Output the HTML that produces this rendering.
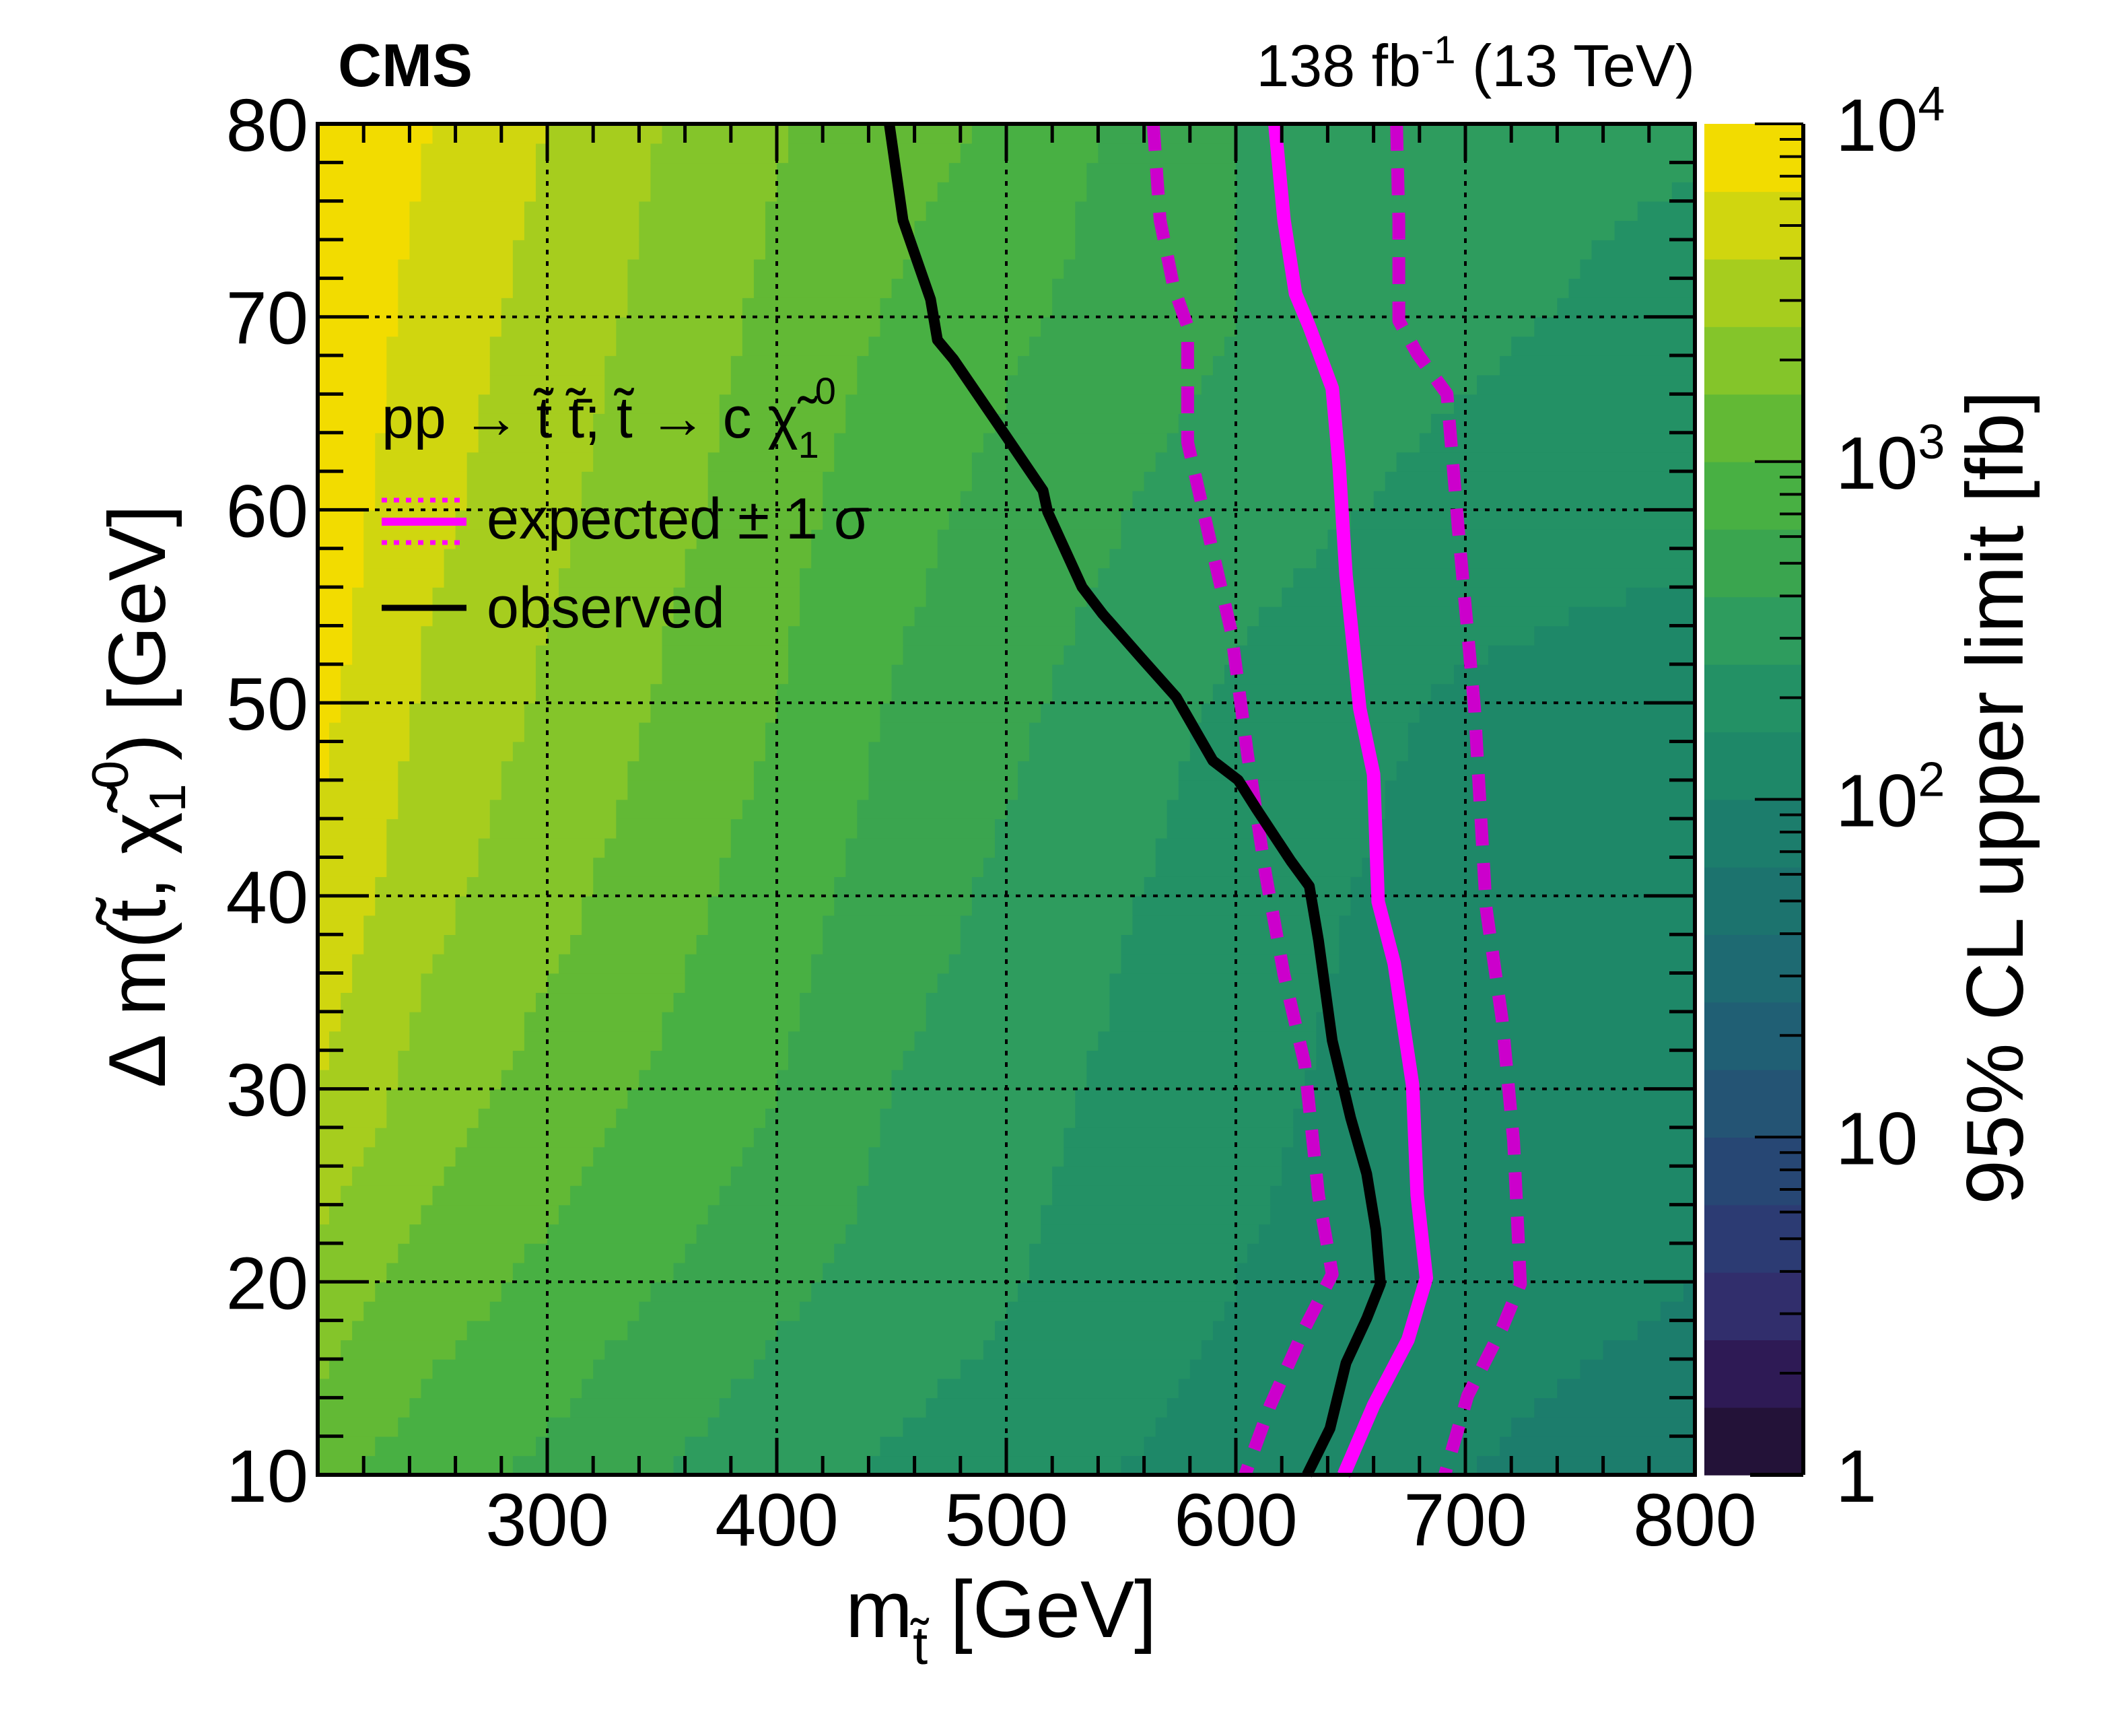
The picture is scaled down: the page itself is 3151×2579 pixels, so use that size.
<!DOCTYPE html>
<html><head><meta charset="utf-8"><style>
html,body{margin:0;padding:0;background:#fff;}
svg{display:block;font-family:"Liberation Sans",sans-serif;}
</style></head><body>
<svg id="chart" width="3151" height="2579" viewBox="0 0 3151 2579" xmlns="http://www.w3.org/2000/svg">
<g id="heat"></g>
<g id="grid"></g>
<g id="curves"></g>
<g id="axes"></g>
<g id="cbar"></g>
<text x="502" y="128" font-size="90" font-weight="bold">CMS</text>
<text x="2518" y="128" font-size="88" text-anchor="end">138 fb<tspan dy="-34" font-size="58">-1</tspan><tspan dy="34"> (13 TeV)</tspan></text>
<text x="1256" y="2432" font-size="120">m<tspan dy="40" font-size="80">t̃</tspan><tspan dy="-40"> [GeV]</tspan></text>
<text transform="translate(245,1183) rotate(-90)" font-size="120" text-anchor="middle">Δ m(t̃, χ̃<tspan dy="30" font-size="76">1</tspan><tspan dy="-85" dx="-8" font-size="76">0</tspan><tspan dy="55">) [GeV]</tspan></text>
<text transform="translate(3005,1185) rotate(-90)" font-size="120" text-anchor="middle">95% CL upper limit [fb]</text>
<g>
<text x="567" y="650" font-size="86">pp → t̃ t̃̄; t̃ → c χ̃<tspan dy="30" font-size="56">1</tspan><tspan dy="-80" dx="-6" font-size="56">0</tspan></text>
<line x1="567" y1="743" x2="693" y2="743" stroke="#ff00ff" stroke-width="7" stroke-dasharray="8,10"/>
<line x1="567" y1="775" x2="693" y2="775" stroke="#ff00ff" stroke-width="12"/>
<line x1="567" y1="806" x2="693" y2="806" stroke="#ff00ff" stroke-width="7" stroke-dasharray="8,10"/>
<text x="723" y="800" font-size="86">expected ± 1 σ</text>
<line x1="567" y1="903" x2="693" y2="903" stroke="#000" stroke-width="9"/>
<text x="723" y="932" font-size="86">observed</text>
</g>
</svg>
<script>
const xGrid = [200,250,300,350,400,450,500,550,600,650,700,750,800];
const yGrid = [10,20,30,40,50,60,70,80];
const logLimit = [
 [3.05,2.88,2.76,2.6,2.47,2.37,2.3,2.2,2.1,2.05,2.0,1.96,1.94],
 [3.35,3.1,2.95,2.8,2.65,2.52,2.42,2.3,2.2,2.13,2.07,2.03,2.0],
 [3.6,3.3,3.12,2.97,2.8,2.6,2.48,2.36,2.26,2.16,2.08,2.04,2.02],
 [3.76,3.45,3.27,3.08,2.9,2.7,2.56,2.42,2.3,2.2,2.12,2.08,2.06],
 [3.86,3.55,3.37,3.18,3.0,2.79,2.65,2.5,2.36,2.25,2.17,2.14,2.12],
 [3.93,3.65,3.45,3.26,3.08,2.87,2.74,2.61,2.5,2.41,2.32,2.26,2.25],
 [3.97,3.72,3.52,3.33,3.15,2.98,2.84,2.72,2.6,2.52,2.45,2.38,2.34],
 [4.0,3.8,3.6,3.4,3.22,3.1,2.96,2.76,2.6,2.53,2.48,2.45,2.42]
];
const obsX = [449,455,467,470,477,500,516,518,533,542,559,574,590,601,609,624,632,636,642,650,657,661,663,657,648,641,631];
const obsY = [80,75,70.9,68.8,67.8,63.8,61,59.9,56,54.6,52.3,50.3,47,46,44.5,41.8,40.5,37.7,32.5,28.5,25.6,22.7,19.9,18.1,15.8,12.4,10];
const expX = [617,621,626,632,642,645,648,654,660,662,669,677,679,683,675,660,647];
const expY = [80,75,71.2,69.5,66.3,62.3,56.6,49.7,46.3,39.7,36.5,30.2,24.5,20.2,17,13.6,10];
const expDnX = [564,567,573,579,579,589,598,605,613,621,630,636,642,630,615,604];
const expDnY = [80,75,71.5,69.5,63.5,58.3,53.7,47.4,41.1,35.9,31.3,24.5,20.4,17.6,13.6,10];
const expUpX = [670,671,671,679,692,697,704,709,716,721,724,716,701,691];
const expUpY = [80,75,69.8,68.1,66,58.9,49.7,39.4,33.6,27.3,19.9,17.6,14.1,10];
const xTicks = [300,400,500,600,700,800];
const yTicks = [10,20,30,40,50,60,70,80];
const zTickLabels = ["1","10","10","10","10"];
const zTickExp = ["","","2","3","4"];
const bandColors = ["#231238","#2e1a55","#312e6c","#2c3b73","#274774","#245474","#205f74","#1e6a72","#1c736e","#1c7d6c","#1e8868","#239165","#2e9c5e","#3aa54f","#48b043","#62b935","#84c52a","#a6cd1e","#d0d60f","#f2dc00"];

const NS="http://www.w3.org/2000/svg";
const L=472,R=2518,T=184,B=2191,CL=2532,CR=2679;
const sx=v=>L+(v-200)/600*(R-L);
const sy=v=>B-(v-10)/70*(B-T);
const sz=v=>B-v/4*(B-T);
function mk(tag,attrs,parent){const e=document.createElementNS(NS,tag);for(const k in attrs)e.setAttribute(k,attrs[k]);parent.appendChild(e);return e;}

function interp(x,y){
  let i=Math.min(Math.floor((x-200)/50),11), j=Math.min(Math.floor((y-10)/10),6);
  const fx=(x-xGrid[i])/50, fy=(y-yGrid[j])/10;
  const a=logLimit[j][i],b=logLimit[j][i+1],c=logLimit[j+1][i],d=logLimit[j+1][i+1];
  return (a*(1-fx)+b*fx)*(1-fy)+(c*(1-fx)+d*fx)*fy;
}
const heat=document.getElementById('heat');
for(let y=10;y<80;y+=1){
  let runStart=200,runBand=null;
  for(let x=200;x<=800;x+=5){
    const band = x<800 ? Math.max(0,Math.min(19,Math.floor(interp(x+2.5,y+0.5)*5))) : -1;
    if(band!==runBand){
      if(runBand!==null){
        const r=mk('rect',{x:sx(runStart),y:sy(y+1),width:sx(x)-sx(runStart)+0.8,height:sy(y)-sy(y+1)+0.8,fill:bandColors[runBand]},heat);
        
        
      }
      runStart=x;runBand=band;
    }
  }
}
const grid=document.getElementById('grid');
xTicks.slice(0,-1).forEach(v=>{const l=mk('line',{x1:sx(v),x2:sx(v),y1:T,y2:B,stroke:'#000','stroke-width':4,'stroke-dasharray':'7,10'},grid);

});
yTicks.slice(1,-1).forEach(v=>{const l=mk('line',{x1:L,x2:R,y1:sy(v),y2:sy(v),stroke:'#000','stroke-width':4,'stroke-dasharray':'7,10'},grid);

});

const curves=document.getElementById('curves');
function curve(xs,ys,name,attrs){const p=xs.map((x,i)=>sx(x)+','+sy(ys[i])).join(' ');
const e=mk('polyline',Object.assign({points:p,fill:'none','stroke-linejoin':'round'},attrs),curves);

}
curve(expDnX,expDnY,'expected-minus-1sigma',{stroke:'#cc00cc','stroke-width':19,'stroke-dasharray':'40,26'});
curve(expUpX,expUpY,'expected-plus-1sigma',{stroke:'#cc00cc','stroke-width':19,'stroke-dasharray':'40,26'});
curve(expX,expY,'expected-limit',{stroke:'#ff00ff','stroke-width':20});
curve(obsX,obsY,'observed-limit',{stroke:'#000','stroke-width':16});

const axes=document.getElementById('axes');
mk('rect',{x:L,y:T,width:R-L,height:B-T,fill:'none',stroke:'#000','stroke-width':6},axes);
for(let v=200;v<=800;v+=20){const maj=v%100===0;const len=maj?55:28;
mk('line',{x1:sx(v),x2:sx(v),y1:B,y2:B-len,stroke:'#000','stroke-width':5},axes);
mk('line',{x1:sx(v),x2:sx(v),y1:T,y2:T+len,stroke:'#000','stroke-width':5},axes);}
for(let v=10;v<=80;v+=2){const maj=v%10===0;const len=maj?76:38;
mk('line',{x1:L,x2:L+len,y1:sy(v),y2:sy(v),stroke:'#000','stroke-width':5},axes);
mk('line',{x1:R,x2:R-len,y1:sy(v),y2:sy(v),stroke:'#000','stroke-width':5},axes);}
xTicks.forEach(v=>{const t=mk('text',{x:sx(v),y:2296,'font-size':110,'text-anchor':'middle'},axes);t.textContent=v;

});
yTicks.forEach(v=>{const t=mk('text',{x:458,y:sy(v)+40,'font-size':110,'text-anchor':'end'},axes);t.textContent=v;

});

const cbar=document.getElementById('cbar');
bandColors.forEach((c,k)=>{const r=mk('rect',{x:CL,y:sz((k+1)/5),width:CR-CL,height:sz(k/5)-sz((k+1)/5)+0.8,fill:c},cbar);

});
mk('line',{x1:CR,x2:CR,y1:T,y2:B,stroke:'#000','stroke-width':6},cbar);
mk('line',{x1:2600,x2:CR,y1:B,y2:B,stroke:'#000','stroke-width':6},cbar);
for(let d=0;d<4;d++){for(let m=1;m<=9;m++){const v=d+Math.log10(m);const len=m===1?72:35;
mk('line',{x1:CR-len,x2:CR,y1:sz(v),y2:sz(v),stroke:'#000','stroke-width':4},cbar);}}
mk('line',{x1:CR-72,x2:CR,y1:sz(4),y2:sz(4),stroke:'#000','stroke-width':4},cbar);
zTickLabels.forEach((lab,d)=>{const t=mk('text',{x:2727,y:sz(d)+40,'font-size':110},cbar);
t.textContent=lab;
if(zTickExp[d]){const s=mk('tspan',{dy:-45,'font-size':72},t);s.textContent=zTickExp[d];}

});
</script>
</body></html>
